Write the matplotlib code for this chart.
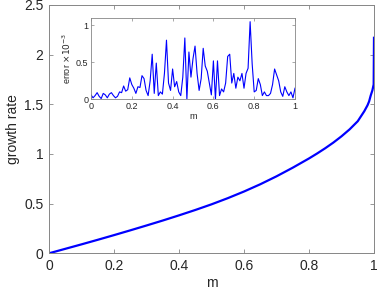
import matplotlib
matplotlib.use("Agg")
import matplotlib.pyplot as plt
import numpy as np

plt.rcParams['font.family'] = ['Liberation Sans', 'DejaVu Sans']

# main curve
m_main = [0, 0.05, 0.1, 0.15, 0.2, 0.25, 0.3, 0.35, 0.4, 0.45, 0.5, 0.55, 0.6, 0.65,
          0.7, 0.75, 0.8, 0.825, 0.85, 0.875, 0.9, 0.925, 0.95, 0.96, 0.97, 0.98,
          0.985, 0.99, 0.995, 0.999, 1.0]
growth = [0, 0.045, 0.09, 0.136, 0.183, 0.231, 0.28, 0.33, 0.382, 0.436, 0.493, 0.555,
          0.622, 0.695, 0.775, 0.862, 0.955, 1.005, 1.058, 1.115, 1.178, 1.248, 1.33,
          1.38, 1.43, 1.49, 1.53, 1.59, 1.64, 1.70, 2.17]

# inset error (x 1e-3)
m_err = [round(0.01 * i, 2) for i in range(101)]
err = [0.06, 0.02, 0.05, 0.09, 0.04, 0.01, 0.08, 0.06, 0.02, 0.07,
       0.09, 0.05, 0.02, 0.04, 0.10, 0.09, 0.18, 0.11, 0.13, 0.29,
       0.20, 0.15, 0.08, 0.17, 0.16, 0.32, 0.28, 0.12, 0.05, 0.25,
       0.61, 0.08, 0.49, 0.05, 0.10, 0.07, 0.35, 0.80, 0.22, 0.12,
       0.41, 0.17, 0.24, 0.10, 0.05, 0.30, 0.83, 0.00, 0.64, 0.30,
       0.55, 0.72, 0.35, 0.12, 0.28, 0.69, 0.45, 0.38, 0.22, 0.06,
       0.52, 0.00, 0.52, 0.05, 0.14, 0.10, 0.22, 0.58, 0.61, 0.22,
       0.35, 0.15, 0.30, 0.25, 0.35, 0.15, 0.35, 0.42, 1.05, 0.48,
       0.10, 0.12, 0.28, 0.20, 0.05, 0.10, 0.05, 0.05, 0.08, 0.20,
       0.41, 0.33, 0.25, 0.10, 0.04, 0.17, 0.10, 0.05, 0.10, 0.02,
       0.15]

main_xticks = [0, 0.2, 0.4, 0.6, 0.8, 1]
main_xticklabels = ['0', '0.2', '0.4', '0.6', '0.8', '1']
main_yticks = [0, 0.5, 1, 1.5, 2, 2.5]
main_yticklabels = ['0', '0.5', '1', '1.5', '2', '2.5']
ins_yticks = [0, 0.5, 1]
ins_yticklabels = ['0', '0.5', '1']

spine_c = '#868686'
text_c = '#262626'

fig = plt.figure(figsize=(3.78, 2.94), dpi=100)
ax = fig.add_axes([49/378, 40.7/294, 325/378, 248.3/294])
ax.plot(m_main, growth, color=(0, 0, 1), lw=1.6, solid_joinstyle='round')
ax.set_xlim(0, 1)
ax.set_ylim(0, 2.5)
ax.set_xticks(main_xticks)
ax.set_xticklabels(main_xticklabels)
ax.set_yticks(main_yticks)
ax.set_yticklabels(main_yticklabels)
ax.tick_params(direction='in', length=3, width=0.6, colors=spine_c, labelcolor=text_c,
               labelsize=10, top=True, right=True, pad=4)
for s in ax.spines.values():
    s.set_color(spine_c)
    s.set_linewidth(0.7)
ax.set_xlabel('m', fontsize=10, color=text_c, labelpad=2)
ax.set_ylabel('growth rate', fontsize=10, color=text_c, labelpad=3)

ins = fig.add_axes([91/378, 194.7/294, 204/378, 81.3/294])
ins.plot(m_err, err, color=(0, 0, 1), lw=0.8)
ins.set_xlim(0, 1)
ins.set_ylim(0, 1.1)
ins.set_xticks(main_xticks)
ins.set_xticklabels(main_xticklabels)
ins.set_yticks(ins_yticks)
ins.set_yticklabels(ins_yticklabels)
ins.tick_params(direction='in', length=2, width=0.5, colors=spine_c, labelcolor=text_c,
                labelsize=6.5, top=True, right=True, pad=2)
for s in ins.spines.values():
    s.set_color(spine_c)
    s.set_linewidth(0.6)
ins.set_xlabel('m', fontsize=6.5, color=text_c, labelpad=1)
ins.set_ylabel('error $\\times10^{-3}$', fontsize=6.5, color=text_c, labelpad=2)

fig.savefig('out.png', dpi=100)
